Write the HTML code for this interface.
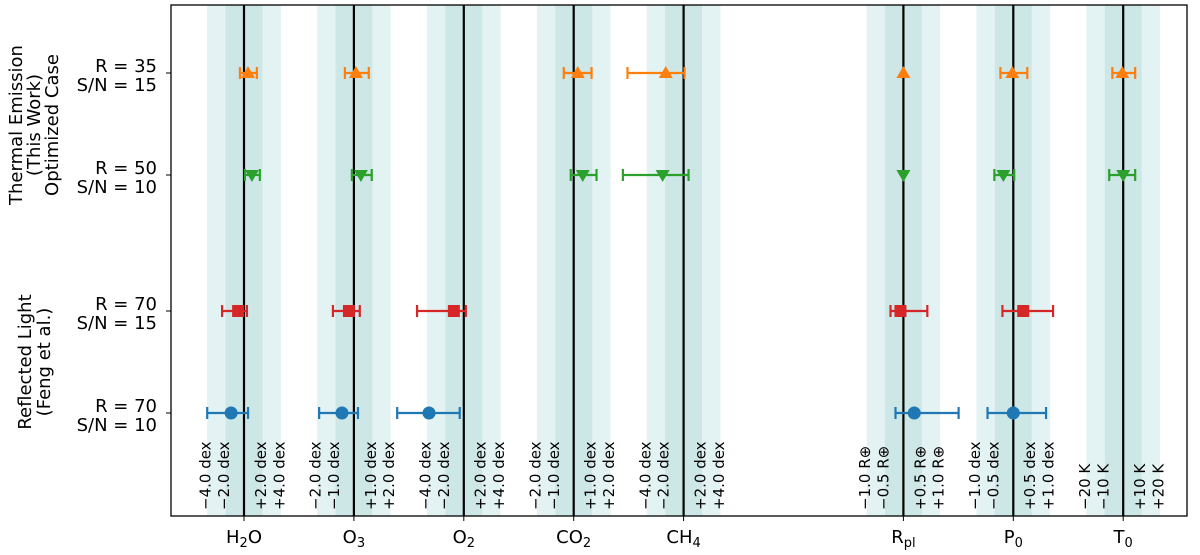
<!DOCTYPE html>
<html><head><meta charset="utf-8"><style>
body{margin:0;background:#fff;width:1200px;height:550px;overflow:hidden}
svg text{font-family:"DejaVu Sans","Liberation Sans",sans-serif;fill:#000}
</style></head><body>
<svg id="chart" width="1200" height="550" viewBox="0 0 1200 550" xmlns="http://www.w3.org/2000/svg">
<g id="bands"></g>
<g id="marks"></g>
<rect x="171" y="5" width="1016" height="511" fill="none" stroke="#000" stroke-width="1.3"/>
<g font-size="18" text-anchor="middle">
<text transform="translate(22,125) rotate(-90)">Thermal Emission</text>
<text transform="translate(40,125) rotate(-90)">(This Work)</text>
<text transform="translate(58,125) rotate(-90)">Optimized Case</text>
<text transform="translate(31,362) rotate(-90)">Reflected Light</text>
<text transform="translate(50,362) rotate(-90)">(Feng et al.)</text>
</g>
<g id="ylab"></g>
<g id="xlab"></g>
</svg>
<script>
const categories=["H2O","O3","O2","CO2","CH4","Rpl","P0","T0"];
const catSlots=[0,1,2,3,4,6,7,8];
const catHtml=['H<tspan font-size="13" dy="4">2</tspan><tspan dy="-4">O</tspan>','O<tspan font-size="13" dy="4">3</tspan>','O<tspan font-size="13" dy="4">2</tspan>','CO<tspan font-size="13" dy="4">2</tspan>','CH<tspan font-size="13" dy="4">4</tspan>','R<tspan font-size="13" dy="4">pl</tspan>','P<tspan font-size="13" dy="4">0</tspan>','T<tspan font-size="13" dy="4">0</tspan>'];
const bandLabels=[
["\u22124.0 dex","\u22122.0 dex","+2.0 dex","+4.0 dex"],
["\u22122.0 dex","\u22121.0 dex","+1.0 dex","+2.0 dex"],
["\u22124.0 dex","\u22122.0 dex","+2.0 dex","+4.0 dex"],
["\u22122.0 dex","\u22121.0 dex","+1.0 dex","+2.0 dex"],
["\u22124.0 dex","\u22122.0 dex","+2.0 dex","+4.0 dex"],
["\u22121.0 R\u2295","\u22120.5 R\u2295","+0.5 R\u2295","+1.0 R\u2295"],
["\u22121.0 dex","\u22120.5 dex","+0.5 dex","+1.0 dex"],
["\u221220 K","\u221210 K","+10 K","+20 K"]];
const rowLabelR=["R = 35","R = 50","R = 70","R = 70"];
const rowLabelSN=["S/N = 15","S/N = 10","S/N = 15","S/N = 10"];
// values in units of inner band width, per category (null = absent)
const orangeC=[0.22,0.11,null,0.22,-0.97,0,-0.05,-0.05];
const orangeLo=[-0.22,-0.49,null,-0.54,-3.05,0,-0.7,-0.59];
const orangeHi=[0.7,0.81,null,0.97,0.05,0,0.76,0.65];
const greenC=[0.43,0.38,null,0.49,-1.14,0,-0.54,0];
const greenLo=[0.05,-0.11,null,-0.16,-3.3,0,-1.03,-0.76];
const greenHi=[0.86,0.97,null,1.24,0.27,0,0.05,0.65];
const redC=[-0.32,-0.27,-0.54,null,null,-0.16,0.54,null];
const redLo=[-1.19,-1.14,-2.54,null,null,-0.7,-0.59,null];
const redHi=[0.16,0.32,0.11,null,null,1.3,2.16,null];
const blueC=[-0.7,-0.65,-1.89,null,null,0.59,0,null];
const blueLo=[-2.0,-1.89,-3.62,null,null,-0.43,-1.4,null];
const blueHi=[0.22,0.22,-0.22,null,null,3.0,1.78,null];

const NS="http://www.w3.org/2000/svg";
const X0=244,STEP=109.9,U=18.4,YT=5,YB=516;
const rowY=[73,175,311,413];
const xc=i=>X0+STEP*catSlots[i];
const xv=(i,v)=>xc(i)+v*U;
function mk(tag,attrs,parent){const e=document.createElementNS(NS,tag);for(const k in attrs)e.setAttribute(k,attrs[k]);parent.appendChild(e);return e;}
const bands=document.getElementById('bands'),marks=document.getElementById('marks'),xlab=document.getElementById('xlab'),ylab=document.getElementById('ylab');
categories.forEach((c,i)=>{
 const cx=xc(i);
 const o=mk('rect',{x:cx-2*U,y:YT,width:4*U,height:YB-YT,fill:'#e3f2f2'},bands);
 
 
 const n=mk('rect',{x:cx-U,y:YT,width:2*U,height:YB-YT,fill:'#cde6e6'},bands);
 
 
 const l=mk('line',{x1:cx,x2:cx,y1:YT,y2:YB,stroke:'#000','stroke-width':2.2},bands);
 
 
 mk('line',{x1:cx,x2:cx,y1:YB,y2:YB+5,stroke:'#000','stroke-width':1},xlab);
 const t=mk('text',{x:cx,y:543,'font-size':18,'text-anchor':'middle'},xlab);
 t.innerHTML=catHtml[i];
 
 
 [-2,-1,1,2].forEach((k,j)=>{
  const tx=cx+k*U+3.5;
  const bt=mk('text',{transform:`translate(${tx},510) rotate(-90)`,'font-size':15},bands);
  bt.textContent=bandLabels[i][j];
  
  
 });
});
rowY.forEach((y,r)=>{
 mk('line',{x1:166,x2:171,y1:y,y2:y,stroke:'#000'},ylab);
 const a=mk('text',{x:157,y:y-1,'font-size':18,'text-anchor':'end'},ylab);a.textContent=rowLabelR[r];
 
 
 const b=mk('text',{x:157,y:y+18,'font-size':18,'text-anchor':'end'},ylab);b.textContent=rowLabelSN[r];
 
 
});
const series=[
 {name:'orange',color:'#ff7f0e',c:orangeC,lo:orangeLo,hi:orangeHi,row:0,m:'up'},
 {name:'green',color:'#2ca02c',c:greenC,lo:greenLo,hi:greenHi,row:1,m:'down'},
 {name:'red',color:'#d62728',c:redC,lo:redLo,hi:redHi,row:2,m:'sq'},
 {name:'blue',color:'#1f77b4',c:blueC,lo:blueLo,hi:blueHi,row:3,m:'circ'}];
series.forEach(s=>{
 const y=rowY[s.row];
 s.c.forEach((v,i)=>{
  if(v===null)return;
  const g=mk('g',{fill:s.color,stroke:s.color},marks);
  
  
  const x1=xv(i,s.lo[i]),x2=xv(i,s.hi[i]),x=xv(i,v);
  if(x2-x1>1){
   mk('line',{x1:x1,x2:x2,y1:y,y2:y,'stroke-width':2.2},g);
   mk('line',{x1:x1,x2:x1,y1:y-6,y2:y+6,'stroke-width':2.2},g);
   mk('line',{x1:x2,x2:x2,y1:y-6,y2:y+6,'stroke-width':2.2},g);
  }
  if(s.m==='up')mk('polygon',{points:`${x},${y-7} ${x-7},${y+5} ${x+7},${y+5}`,stroke:'none'},g);
  else if(s.m==='down')mk('polygon',{points:`${x},${y+7} ${x-7},${y-5} ${x+7},${y-5}`,stroke:'none'},g);
  else if(s.m==='sq')mk('rect',{x:x-6,y:y-6,width:12,height:12,stroke:'none'},g);
  else mk('circle',{cx:x,cy:y,r:6.5,stroke:'none'},g);
 });
});
</script>
</body></html>
